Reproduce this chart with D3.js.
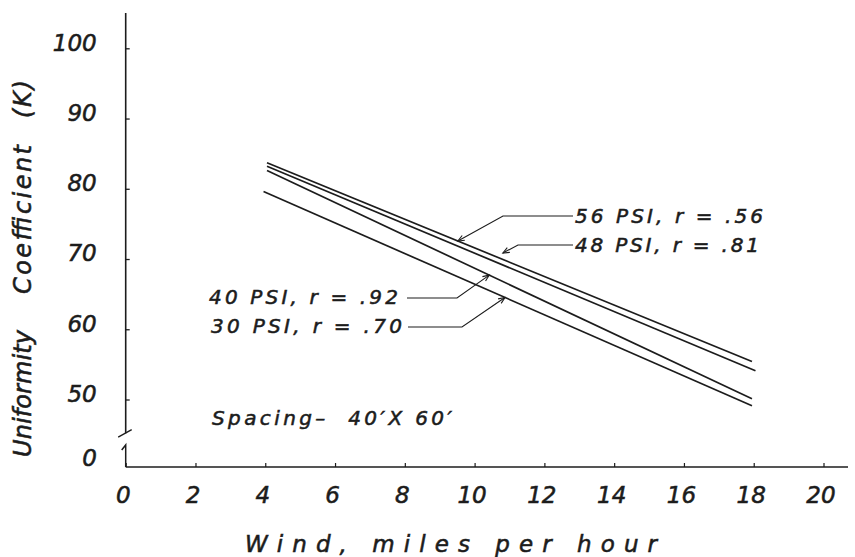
<!DOCTYPE html>
<html>
<head>
<meta charset="utf-8">
<script src="https://cdn.jsdelivr.net/npm/d3@7/dist/d3.min.js"></script>
<style>
  html, body { margin: 0; padding: 0; background: #fff; }
  svg { display: block; }
  text { font-family: "DejaVu Sans", sans-serif; font-style: oblique; fill: #1c1c1c;
         stroke: #1c1c1c; stroke-width: 0.55px; white-space: pre; }
</style>
</head>
<body>
<svg id="chart" width="855" height="557"></svg>
<script>
// Wind speed (mph) vs. sprinkler uniformity coefficient, 40' x 60' spacing
const windTicks = [0, 2, 4, 6, 8, 10, 12, 14, 16, 18, 20];
const ucTicks = [50, 60, 70, 80, 90, 100];
const pressures = ["56 PSI", "48 PSI", "40 PSI", "30 PSI"];
const rValues = [".56", ".81", ".92", ".70"];
const windStart = [4.05, 4.05, 4.05, 3.95];
const windEnd = [17.95, 18.05, 17.95, 17.95];
const ucStart = [83.7, 83.2, 82.6, 79.6];
const ucEnd = [55.4, 54.1, 50.1, 49.1];
// wind speed where each leader arrow meets its regression line
const arrowWind = [9.52, 10.81, 10.42, 10.87];

const series = pressures.map((p, i) => ({
  name: p,
  r: rValues[i],
  pts: [[windStart[i], ucStart[i]], [windEnd[i], ucEnd[i]]]
}));

const svg = d3.select("#chart");
const ink = "#1c1c1c";

const x = d3.scaleLinear().domain([0, 20]).range([125.7, 823.5]);
const y = d3.scaleLinear().domain([50, 100]).range([399.5, 48.3]);
const baseY = 467;           // x-axis (K = 0) level below the axis break
const axisTop = 13;

// ---- axes ----
const g = svg.append("g");

// upper (broken) y-axis segment
const breakY = y(45.2);
g.append("line").attr("x1", x(0)).attr("x2", x(0)).attr("y1", axisTop).attr("y2", breakY)
  .attr("stroke", ink).attr("stroke-width", 1.6);
g.append("line").attr("x1", x(0) - 7.5).attr("y1", breakY + 4)
  .attr("x2", x(0) + 6).attr("y2", breakY - 3.5)
  .attr("stroke", ink).attr("stroke-width", 1.4);
// lower segment with hooked top
g.append("path")
  .attr("d", `M${x(0) - 4},${baseY - 17} L${x(0)},${baseY - 22} L${x(0)},${baseY}`)
  .attr("fill", "none").attr("stroke", ink).attr("stroke-width", 1.5);

// x-axis line
g.append("line").attr("x1", x(0)).attr("x2", 848).attr("y1", baseY).attr("y2", baseY)
  .attr("stroke", ink).attr("stroke-width", 1.5);

// y ticks + labels
const yAxis = d3.axisLeft(y).tickValues(ucTicks).tickSizeInner(-4).tickSizeOuter(0).tickPadding(29);
const gy = svg.append("g").attr("transform", `translate(${x(0)},0)`).call(yAxis);
gy.select(".domain").remove();
gy.selectAll(".tick line").attr("stroke", ink).attr("stroke-width", 1.3);
gy.selectAll(".tick text")
  .attr("font-family", "DejaVu Sans, sans-serif").attr("font-size", 23)
  .attr("dy", "0.08em").style("font-style", "oblique").attr("fill", ink);
// "0" at the foot of the broken axis
svg.append("text").attr("x", 97).attr("y", baseY - 1).attr("text-anchor", "end")
  .attr("font-size", 23).text("0");

// x ticks + labels
const xAxis = d3.axisBottom(x).tickValues(windTicks).tickSizeInner(-4).tickSizeOuter(0).tickPadding(26);
const gx = svg.append("g").attr("transform", `translate(0,${baseY})`).call(xAxis);
gx.select(".domain").remove();
gx.selectAll(".tick line").attr("stroke", ink).attr("stroke-width", 1.2);
gx.selectAll(".tick text")
  .attr("font-family", "DejaVu Sans, sans-serif").attr("font-size", 23)
  .attr("dx", -3).attr("dy", "0.42em").style("font-style", "oblique").attr("fill", ink);

// axis titles
svg.append("text").attr("x", 245).attr("y", 552).attr("font-size", 23)
  .attr("textLength", 412).attr("lengthAdjust", "spacing")
  .text("Wind, miles per hour");

const yTitle = [
  { t: "Uniformity", lo: 457, hi: 330 },
  { t: "Coefficient", lo: 294, hi: 145 },
  { t: "(K)", lo: 118, hi: 80 }
];
yTitle.forEach(d => {
  svg.append("text")
    .attr("transform", `translate(31,${d.lo}) rotate(-90)`)
    .attr("font-size", 24)
    .attr("textLength", d.lo - d.hi).attr("lengthAdjust", "spacing")
    .text(d.t);
});

// ---- regression lines ----
const line = d3.line().x(d => x(d[0])).y(d => y(d[1]));
svg.append("g").selectAll("path").data(series).join("path")
  .attr("d", d => line(d.pts))
  .attr("fill", "none").attr("stroke", ink).attr("stroke-width", 1.7);

// value of a series at a given wind speed
function at(s, w) {
  const [[x0, y0], [x1, y1]] = s.pts;
  return y0 + (y1 - y0) * (w - x0) / (x1 - x0);
}

// ---- leader labels ----
const labelLayout = [
  { tx: 575, ty: 223, len: 188, hy: 216, hx0: 573, hx1: 503, tipDy: 0 },
  { tx: 575, ty: 252, len: 184, hy: 245, hx0: 573, hx1: 518, tipDy: -12 },
  { tx: 209, ty: 304, len: 189, hy: 298, hx0: 407, hx1: 457, tipDy: 0 },
  { tx: 211, ty: 333, len: 191, hy: 327, hx0: 408, hx1: 462, tipDy: 0 }
];

series.forEach((s, i) => {
  const L = labelLayout[i];
  const tipX = x(arrowWind[i]);
  const tipY = y(at(s, arrowWind[i])) + L.tipDy;
  svg.append("text").attr("x", L.tx).attr("y", L.ty).attr("font-size", 20)
    .attr("textLength", L.len).attr("lengthAdjust", "spacing")
    .text(`${s.name}, r = ${s.r}`);
  svg.append("path")
    .attr("d", `M${L.hx0},${L.hy} L${L.hx1},${L.hy} L${tipX},${tipY}`)
    .attr("fill", "none").attr("stroke", ink).attr("stroke-width", 1.1);
  // open arrowhead
  const ang = Math.atan2(tipY - L.hy, tipX - L.hx1);
  const a = 7, spread = 0.4;
  const p1 = [tipX - a * Math.cos(ang - spread), tipY - a * Math.sin(ang - spread)];
  const p2 = [tipX - a * Math.cos(ang + spread), tipY - a * Math.sin(ang + spread)];
  svg.append("path")
    .attr("d", `M${p1[0]},${p1[1]} L${tipX},${tipY} L${p2[0]},${p2[1]}`)
    .attr("fill", "none").attr("stroke", ink).attr("stroke-width", 1.1);
});

// spacing note
svg.append("text").attr("x", 212).attr("y", 425).attr("font-size", 20)
  .attr("textLength", 240).attr("lengthAdjust", "spacing")
  .text("Spacing–  40′X 60′");
</script>
</body>
</html>
